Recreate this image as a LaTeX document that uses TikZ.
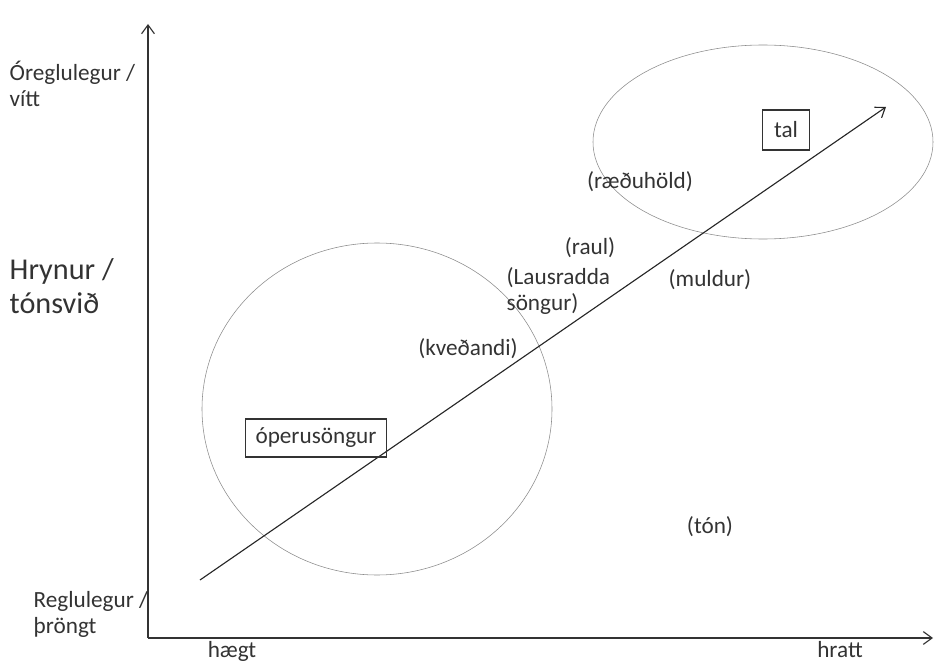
\documentclass[tikz,border=0pt]{standalone}
\usepackage{fontspec}
\setmainfont{Carlito}
\usepackage{tikz}
\usetikzlibrary{arrows.meta,shapes}

\begin{document}
\begin{tikzpicture}[x=0.025cm,y=-0.025cm,>={Straight Barb[length=2.2mm,width=3.2mm]},
  lbl/.style={font=\fontsize{16.5}{18.5}\selectfont,text=black!80,inner sep=1pt},
  boxed/.style={lbl,draw=black!80,thick,inner sep=5pt},
  field/.style={draw=black!45,thin}]
\useasboundingbox (0,0) rectangle (935,663);
% axes
\coordinate (o) at (148,638);
\coordinate (ytop) at (148,24);
\coordinate (xend) at (933,638);
\draw[thick,black!80,->] (o)--(ytop);
\draw[thick,black!80,->] (o)--(xend);
% the two fields
\draw[field] (377,409) ellipse (175 and 166);
\draw[field] (763,142) ellipse (170 and 97);
% diagonal
\coordinate (s) at (200,580);
\coordinate (e) at (886,107);
\draw[thick,black!85,->] (s)--(e);
% axis texts
\node[lbl,anchor=west,align=left] (vitt) at (8,84) {Óreglulegur /\\vítt};
\node[lbl,anchor=west,align=left,font=\fontsize{21.5}{24}\selectfont] (hryn) at (8,286) {Hrynur /\\tónsvið};
\node[lbl,anchor=west,align=left] (throngt) at (32,614) {Reglulegur /\\þröngt};
\node[lbl] (haegt) at (232,651) {hægt};
\node[lbl] (hratt) at (840,650) {hratt};
% voices
\node[boxed,minimum width=1.18cm,minimum height=1cm] (tal) at (786,130) {tal};
\node[boxed,inner xsep=7pt,minimum height=0.95cm] (opera) at (316,438) {óperusöngur};
\node[lbl] (raedu) at (640,182) {(ræðuhöld)};
\node[lbl] (raul) at (590,248) {(raul)};
\node[lbl,anchor=west,align=left] (laus) at (505,291) {(Lausradda\\söngur)};
\node[lbl] (muldur) at (710,280) {(muldur)};
\node[lbl] (kvedandi) at (468,349) {(kveðandi)};
\node[lbl] (ton) at (710,527) {(tón)};
\end{tikzpicture}
\end{document}
